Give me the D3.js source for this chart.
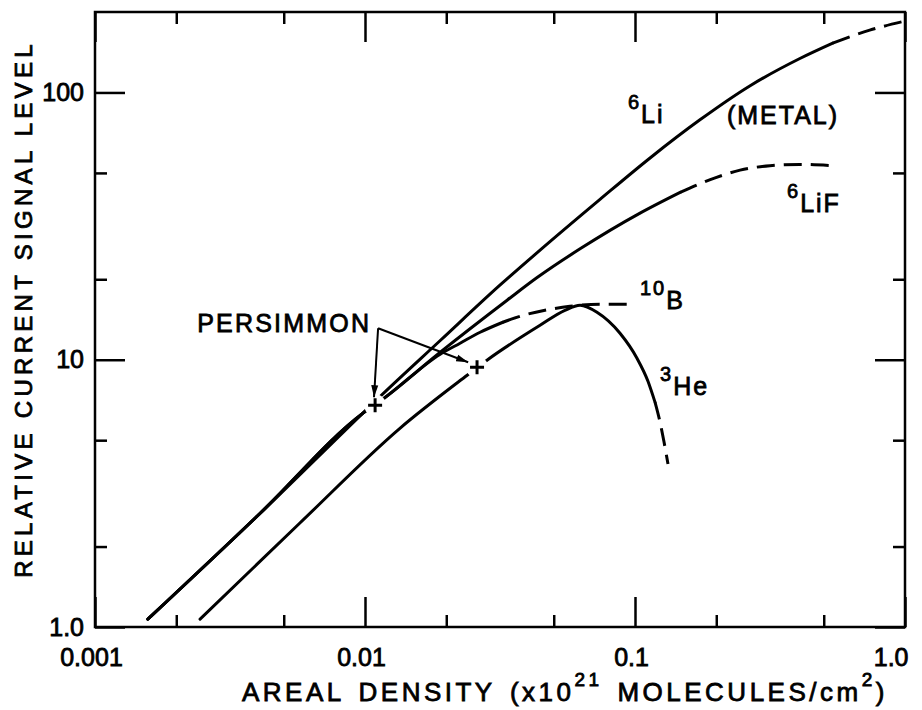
<!DOCTYPE html>
<html>
<head>
<meta charset="utf-8">
<script src="https://d3js.org/d3.v7.min.js"></script>
<style>
    body { margin: 0; background: #fff; }
    svg { display: block; }
    text { font-family: "Liberation Sans", Arial, sans-serif; fill: #000; }
</style>
</head>
<body>
<svg id="drawing_region"></svg>
<script>
// axis ticks
const xMajorTicks = [0.001, 0.01, 0.1, 1.0];
const xTickLabels = ["0.001", "0.01", "0.1", "1.0"];
const xMinorTicks = [0.002, 0.005, 0.02, 0.05, 0.2, 0.5];
const yMajorTicks = [1, 10, 100];
const yTickLabels = ["1.0", "10", "100"];
const yMinorTicks = [2, 5, 20, 50];

// 6Li (metal): solid part, then dashed part
const liMetalX = [0.00157, 0.0041, 0.0098, 0.0114, 0.019, 0.0316, 0.0445, 0.0742, 0.114, 0.174, 0.267, 0.408, 0.54];
const liMetalY = [1.07, 2.67, 6.3, 7.3, 11.8, 19.0, 25.7, 39.8, 57, 79, 106, 134, 153];
const liMetalDashX = [0.54, 0.74, 1.0];
const liMetalDashY = [153, 171, 185];

// 6LiF
const liFX = [0.00157, 0.0041, 0.0098, 0.0117, 0.019, 0.0336, 0.0434, 0.0626, 0.104, 0.147];
const liFY = [1.07, 2.67, 6.3, 7.15, 10.67, 16.7, 20.3, 26.0, 35.3, 42.3];
const liFDashX = [0.147, 0.19, 0.245, 0.316, 0.408, 0.528];
const liFDashY = [42.3, 47.2, 51.2, 53.2, 53.8, 53.3];

// 10B
const boronX = [0.00157, 0.0041, 0.0098, 0.0117, 0.019, 0.0225, 0.0267, 0.0324];
const boronY = [1.07, 2.67, 6.3, 7.15, 10.49, 11.53, 12.67, 13.81];
const boronDashX = [0.0324, 0.0375, 0.0464, 0.0574, 0.0742, 0.0983];
const boronDashY = [13.81, 14.54, 15.31, 15.85, 16.13, 16.13];

// 3He
const heliumX = [0.00245, 0.00574, 0.0135, 0.0239, 0.0283, 0.0445, 0.055, 0.0626, 0.0723, 0.088, 0.1017, 0.1117, 0.1186];
const heliumY = [1.07, 2.45, 5.55, 8.75, 9.96, 13.45, 15.3, 15.99, 15.05, 12.56, 10.13, 8.31, 6.94];
const heliumDashX = [0.1186, 0.1238, 0.1281, 0.1325];
const heliumDashY = [6.94, 5.84, 4.92, 4.07];

// PERSIMMON points and arrow
const persimmonX = [0.0109, 0.026];
const persimmonY = [6.75, 9.37];
const arrowFromX = 0.01118, arrowFromY = 13.11;
const arrowToX = [0.0108, 0.0241];
const arrowToY = [7.24, 9.79];

// curve labels
const labelSup = ["6", "", "6", "10", "3", ""];
const labelMain = ["Li", "(METAL)", "LiF", "B", "He", "PERSIMMON"];
const labelAtX = [0.0942, 0.219, 0.3656, 0.1043, 0.1238, 0.00239];
const labelAtY = [76.6, 75.9, 35.6, 15.45, 7.37, 12.67];

var config = {
    parent: '#drawing_region',
    width: 922,
    height: 710,
    margin: {top: 12, right: 17, bottom: 83, left: 95}
};

class LogChart {

    constructor(config) {
        this.config = config;
        this.init();
    }

    init() {
        let self = this;
        self.svg = d3.select(self.config.parent)
            .attr('width', self.config.width)
            .attr('height', self.config.height);

        self.x0 = self.config.margin.left;
        self.x1 = self.config.width - self.config.margin.right;
        self.y0 = self.config.height - self.config.margin.bottom;
        self.y1 = self.config.margin.top;

        self.xScale = d3.scaleLog().domain([0.001, 1]).range([self.x0, self.x1]);
        self.yScale = d3.scaleLog().domain([1, 200]).range([self.y0, self.y1]);

        self.line = d3.line()
            .x(d => self.xScale(d[0]))
            .y(d => self.yScale(d[1]))
            .curve(d3.curveMonotoneX);
    }

    axis(gen, pos, ticks, size, labels) {
        let self = this;
        let a = gen.tickValues(ticks).tickSizeInner(-size).tickSizeOuter(0).tickPadding(labels ? 21 : 0);
        a.tickFormat(labels ? (d, i) => labels[i] : '');
        let g = self.svg.append('g')
            .attr('transform', pos)
            .call(a);
        g.select('.domain').remove();
        g.selectAll('.tick line').attr('stroke', '#000').attr('stroke-width', 2.5);
        g.selectAll('.tick text')
            .attr('font-family', '"Liberation Sans", Arial, sans-serif')
            .attr('font-size', 25)
            .attr('stroke', '#000').attr('stroke-width', 0.8);
        return g;
    }

    render() {
        let self = this;
        let x = self.xScale, y = self.yScale;

        // frame
        self.svg.append('rect')
            .attr('x', self.x0).attr('y', self.y1)
            .attr('width', self.x1 - self.x0).attr('height', self.y0 - self.y1)
            .attr('fill', 'none').attr('stroke', '#000').attr('stroke-width', 2.5);

        // ticks on all four sides, pointing inward
        let gb = self.axis(d3.axisBottom(x), `translate(0,${self.y0})`, xMajorTicks, 30, xTickLabels);
        gb.selectAll('.tick text').attr('dx', -4);
        gb.selectAll('.tick text').filter((d, i) => i === xMajorTicks.length - 1)
            .attr('text-anchor', 'end').attr('dx', 3);
        self.axis(d3.axisBottom(x), `translate(0,${self.y0})`, xMinorTicks, 12, null);
        self.axis(d3.axisTop(x), `translate(0,${self.y1})`, xMajorTicks, 30, null);
        self.axis(d3.axisTop(x), `translate(0,${self.y1})`, xMinorTicks, 12, null);
        let gl = self.axis(d3.axisLeft(y), `translate(${self.x0},0)`, yMajorTicks, 30, yTickLabels);
        gl.selectAll('.tick text').attr('x', -11);
        self.axis(d3.axisLeft(y), `translate(${self.x0},0)`, yMinorTicks, 12, null);
        self.axis(d3.axisRight(y), `translate(${self.x1},0)`, yMajorTicks, 30, null);
        self.axis(d3.axisRight(y), `translate(${self.x1},0)`, yMinorTicks, 12, null);

        // curves
        const curves = [
            [liMetalX, liMetalY, false], [liMetalDashX, liMetalDashY, true],
            [liFX, liFY, false], [liFDashX, liFDashY, true],
            [boronX, boronY, false], [boronDashX, boronDashY, true],
            [heliumX, heliumY, false], [heliumDashX, heliumDashY, true]
        ];
        curves.forEach(c => {
            self.svg.append('path')
                .datum(d3.zip(c[0], c[1]))
                .attr('fill', 'none')
                .attr('stroke', '#000')
                .attr('stroke-width', 3)
                .attr('stroke-linecap', c[2] ? 'butt' : 'round')
                .attr('stroke-dasharray', c[2] ? '18,9' : null)
                .attr('d', self.line);
        });

        // PERSIMMON markers (white gap round each cross)
        let pts = d3.zip(persimmonX, persimmonY);
        self.svg.selectAll('.halo').data(pts).join('circle')
            .attr('cx', d => x(d[0])).attr('cy', d => y(d[1]))
            .attr('r', 11).attr('fill', '#fff');
        self.svg.selectAll('.cross').data(pts).join('path')
            .attr('d', d => {
                let cx = x(d[0]), cy = y(d[1]);
                return `M${cx - 7},${cy}H${cx + 7}M${cx},${cy - 7}V${cy + 7}`;
            })
            .attr('stroke', '#000').attr('stroke-width', 3).attr('fill', 'none');

        // arrows
        self.svg.append('defs').append('marker')
            .attr('id', 'arrow')
            .attr('markerUnits', 'userSpaceOnUse')
            .attr('markerWidth', 14).attr('markerHeight', 10)
            .attr('refX', 12).attr('refY', 4)
            .attr('orient', 'auto')
            .append('path')
            .attr('d', 'M0,0.5L12,4L0,7.5Z')
            .attr('fill', '#000');
        arrowToX.forEach((tx, i) => {
            self.svg.append('line')
                .attr('x1', x(arrowFromX)).attr('y1', y(arrowFromY))
                .attr('x2', x(tx)).attr('y2', y(arrowToY[i]))
                .attr('stroke', '#000').attr('stroke-width', 2)
                .attr('marker-end', 'url(#arrow)');
        });

        // curve labels
        labelMain.forEach((m, i) => {
            let t = self.svg.append('text')
                .attr('x', x(labelAtX[i])).attr('y', y(labelAtY[i]))
                .attr('font-size', 25)
                .attr('letter-spacing', m === 'PERSIMMON' ? 2.2 : 2)
                .attr('stroke', '#000').attr('stroke-width', 0.8);
            if (labelSup[i]) {
                t.append('tspan').attr('font-size', 20).attr('dy', -14).text(labelSup[i]);
                t.append('tspan').attr('dy', 14).text(m);
            } else {
                t.text(m);
            }
        });

        // axis titles
        self.svg.append('text')
            .attr('transform', `translate(32,309) rotate(-90)`)
            .attr('text-anchor', 'middle')
            .attr('font-size', 24)
            .attr('letter-spacing', 4.3)
            .attr('stroke', '#000').attr('stroke-width', 0.8)
            .text('RELATIVE CURRENT SIGNAL LEVEL');

        let xt = self.svg.append('text')
            .attr('x', 242).attr('y', 701)
            .attr('font-size', 26)
            .attr('letter-spacing', 3.5)
            .attr('word-spacing', 4)
            .attr('stroke', '#000').attr('stroke-width', 0.8);
        xt.append('tspan').text('AREAL DENSITY (x10');
        xt.append('tspan').attr('font-size', 19).attr('dy', -15).text('21');
        xt.append('tspan').attr('dy', 15).text(' MOLECULES/cm');
        xt.append('tspan').attr('font-size', 19).attr('dy', -15).text('2');
        xt.append('tspan').attr('dy', 15).text(')');
    }
}

const chart = new LogChart(config);
chart.render();
</script>
</body>
</html>
